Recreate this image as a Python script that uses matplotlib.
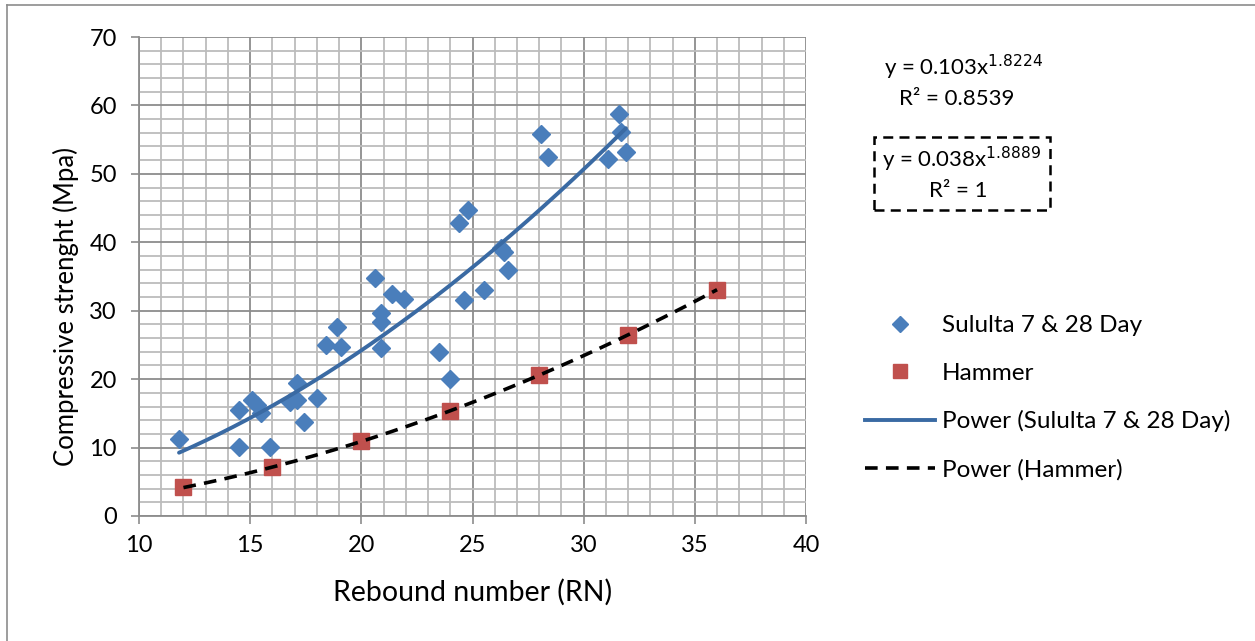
import numpy as np
import matplotlib
matplotlib.use("Agg")
import matplotlib.pyplot as plt
from matplotlib.lines import Line2D

plt.rcParams["font.family"] = ["Lato", "DejaVu Sans"]

# ── Data ──────────────────────────────────────────────────────────────────────
sululta_rn = [11.8, 14.5, 14.5, 15.1, 15.3, 15.5, 15.9, 16.8, 17.1, 17.1,
              17.4, 18.0, 18.4, 18.9, 19.1, 20.6, 20.9, 20.9, 20.9, 21.4,
              21.9, 23.5, 24.0, 24.6, 24.4, 24.8, 25.5, 26.3, 26.4, 26.6,
              28.1, 28.4, 31.1, 31.6, 31.7, 31.9]
sululta_fc = [11.3, 10.1, 15.5, 17.0, 16.2, 15.1, 10.1, 16.7, 19.5, 16.9,
              13.8, 17.3, 25.0, 27.6, 24.7, 34.8, 29.7, 28.3, 24.5, 32.4,
              31.7, 23.9, 20.0, 31.5, 42.8, 44.7, 33.1, 39.2, 38.6, 36.0,
              55.8, 52.5, 52.1, 58.8, 56.1, 53.2]

hammer_rn = [12, 16, 20, 24, 28, 32, 36]
hammer_fc = [4.2, 7.2, 10.9, 15.4, 20.6, 26.5, 33.1]

# power trendline coefficients shown on the chart
sululta_a, sululta_b = 0.103, 1.8224
hammer_a, hammer_b = 0.038, 1.8889

BLUE = "#4a7ebb"
RED = "#c0504d"
TREND = "#3a6aa3"
GRID = "#8c8c8c"

# ── Figure ────────────────────────────────────────────────────────────────────
fig = plt.figure(figsize=(12.55, 6.41), dpi=100)
ax = fig.add_axes([139 / 1255, 1 - 516 / 641, 667 / 1255, 479 / 641])

ax.set_xlim(10, 40)
ax.set_ylim(0, 70)
ax.set_xticks(np.arange(10, 41, 5))
ax.set_yticks(np.arange(0, 71, 10))
ax.set_xticks(np.arange(10, 41, 1), minor=True)
ax.set_yticks(np.arange(0, 71, 2), minor=True)
ax.grid(which="major", color=GRID, linewidth=1.3)
ax.grid(which="minor", color="#bcbcbc", linewidth=1.3)
ax.set_axisbelow(True)
ax.tick_params(which="major", direction="out", length=6, width=1.2,
               color=GRID, labelsize=17)
ax.tick_params(axis="x", which="major", pad=8)
ax.tick_params(axis="y", which="major", pad=10)
ax.tick_params(which="minor", length=0)
for side in ["top", "right"]:
    ax.spines[side].set_visible(False)
for side in ["left", "bottom"]:
    ax.spines[side].set_color(GRID)
    ax.spines[side].set_linewidth(1.3)

ax.set_xlabel("Rebound number (RN)", fontsize=20.5)
ax.set_ylabel("Compressive strenght (Mpa)", fontsize=18.5)
ax.xaxis.set_label_coords((473 - 139) / 667, (516 - 579) / 479)
ax.yaxis.set_label_coords((79 - 139) / 667, (516 - 306) / 479)

# scatter
ax.plot(sululta_rn, sululta_fc, linestyle="none", marker="D", markersize=9,
        color=BLUE, zorder=3)
ax.plot(hammer_rn, hammer_fc, linestyle="none", marker="s", markersize=11,
        color=RED, zorder=3)

# power trendlines
xs = np.linspace(min(sululta_rn), max(sululta_rn), 200)
ax.plot(xs, sululta_a * xs ** sululta_b, color=TREND, linewidth=2.8,
        solid_capstyle="round", zorder=4)
xh = np.linspace(min(hammer_rn), max(hammer_rn), 200)
ax.plot(xh, hammer_a * xh ** hammer_b, color="black", linewidth=2.6,
        dashes=(3.5, 2.3), zorder=4)

# ── Equation labels ───────────────────────────────────────────────────────────
fig.text(964 / 1255, 1 - 67 / 641, r"y = 0.103x$^{1.8224}$", fontsize=16,
         ha="center", va="center")
fig.text(957 / 1255, 1 - 99 / 641, "R² = 0.8539", fontsize=16,
         ha="center", va="center")
fig.text(961 / 1255, 1 - 159 / 641, r"y = 0.038x$^{1.8889}$", fontsize=16,
         ha="center", va="center")
fig.text(958 / 1255, 1 - 191 / 641, "R² = 1", fontsize=16,
         ha="center", va="center")
box = plt.Rectangle((874 / 1255, 1 - 210 / 641), 176 / 1255, 73 / 641,
                    transform=fig.transFigure, fill=False, edgecolor="black",
                    linewidth=1.8, linestyle=(0, (4, 2.5)))
fig.add_artist(box)

# ── Legend ────────────────────────────────────────────────────────────────────
handles = [
    Line2D([], [], linestyle="none", marker="D", markersize=8, color=BLUE),
    Line2D([], [], linestyle="none", marker="s", markersize=10, color=RED),
    Line2D([], [], color=TREND, linewidth=2.8),
    Line2D([], [], color="black", linewidth=2.6, dashes=(3.5, 2.3)),
]
labels = ["Sululta 7 & 28 Day", "Hammer", "Power (Sululta 7 & 28 Day)",
          "Power (Hammer)"]
fig.legend(handles, labels, loc="upper left",
           bbox_to_anchor=(865 / 1255, 1 - 315 / 641), frameon=False,
           fontsize=17.5, handlelength=2.9, handletextpad=0.25,
           labelspacing=1.09, borderpad=0, borderaxespad=0)

# outer chart border
fig.add_artist(Line2D([7 / 1255, 7 / 1255], [0, 1 - 5 / 641],
                      transform=fig.transFigure, color=GRID, linewidth=1.2))
fig.add_artist(Line2D([7 / 1255, 1], [1 - 5 / 641, 1 - 5 / 641],
                      transform=fig.transFigure, color=GRID, linewidth=1.2))

fig.savefig("out.png", dpi=100, facecolor="white")
